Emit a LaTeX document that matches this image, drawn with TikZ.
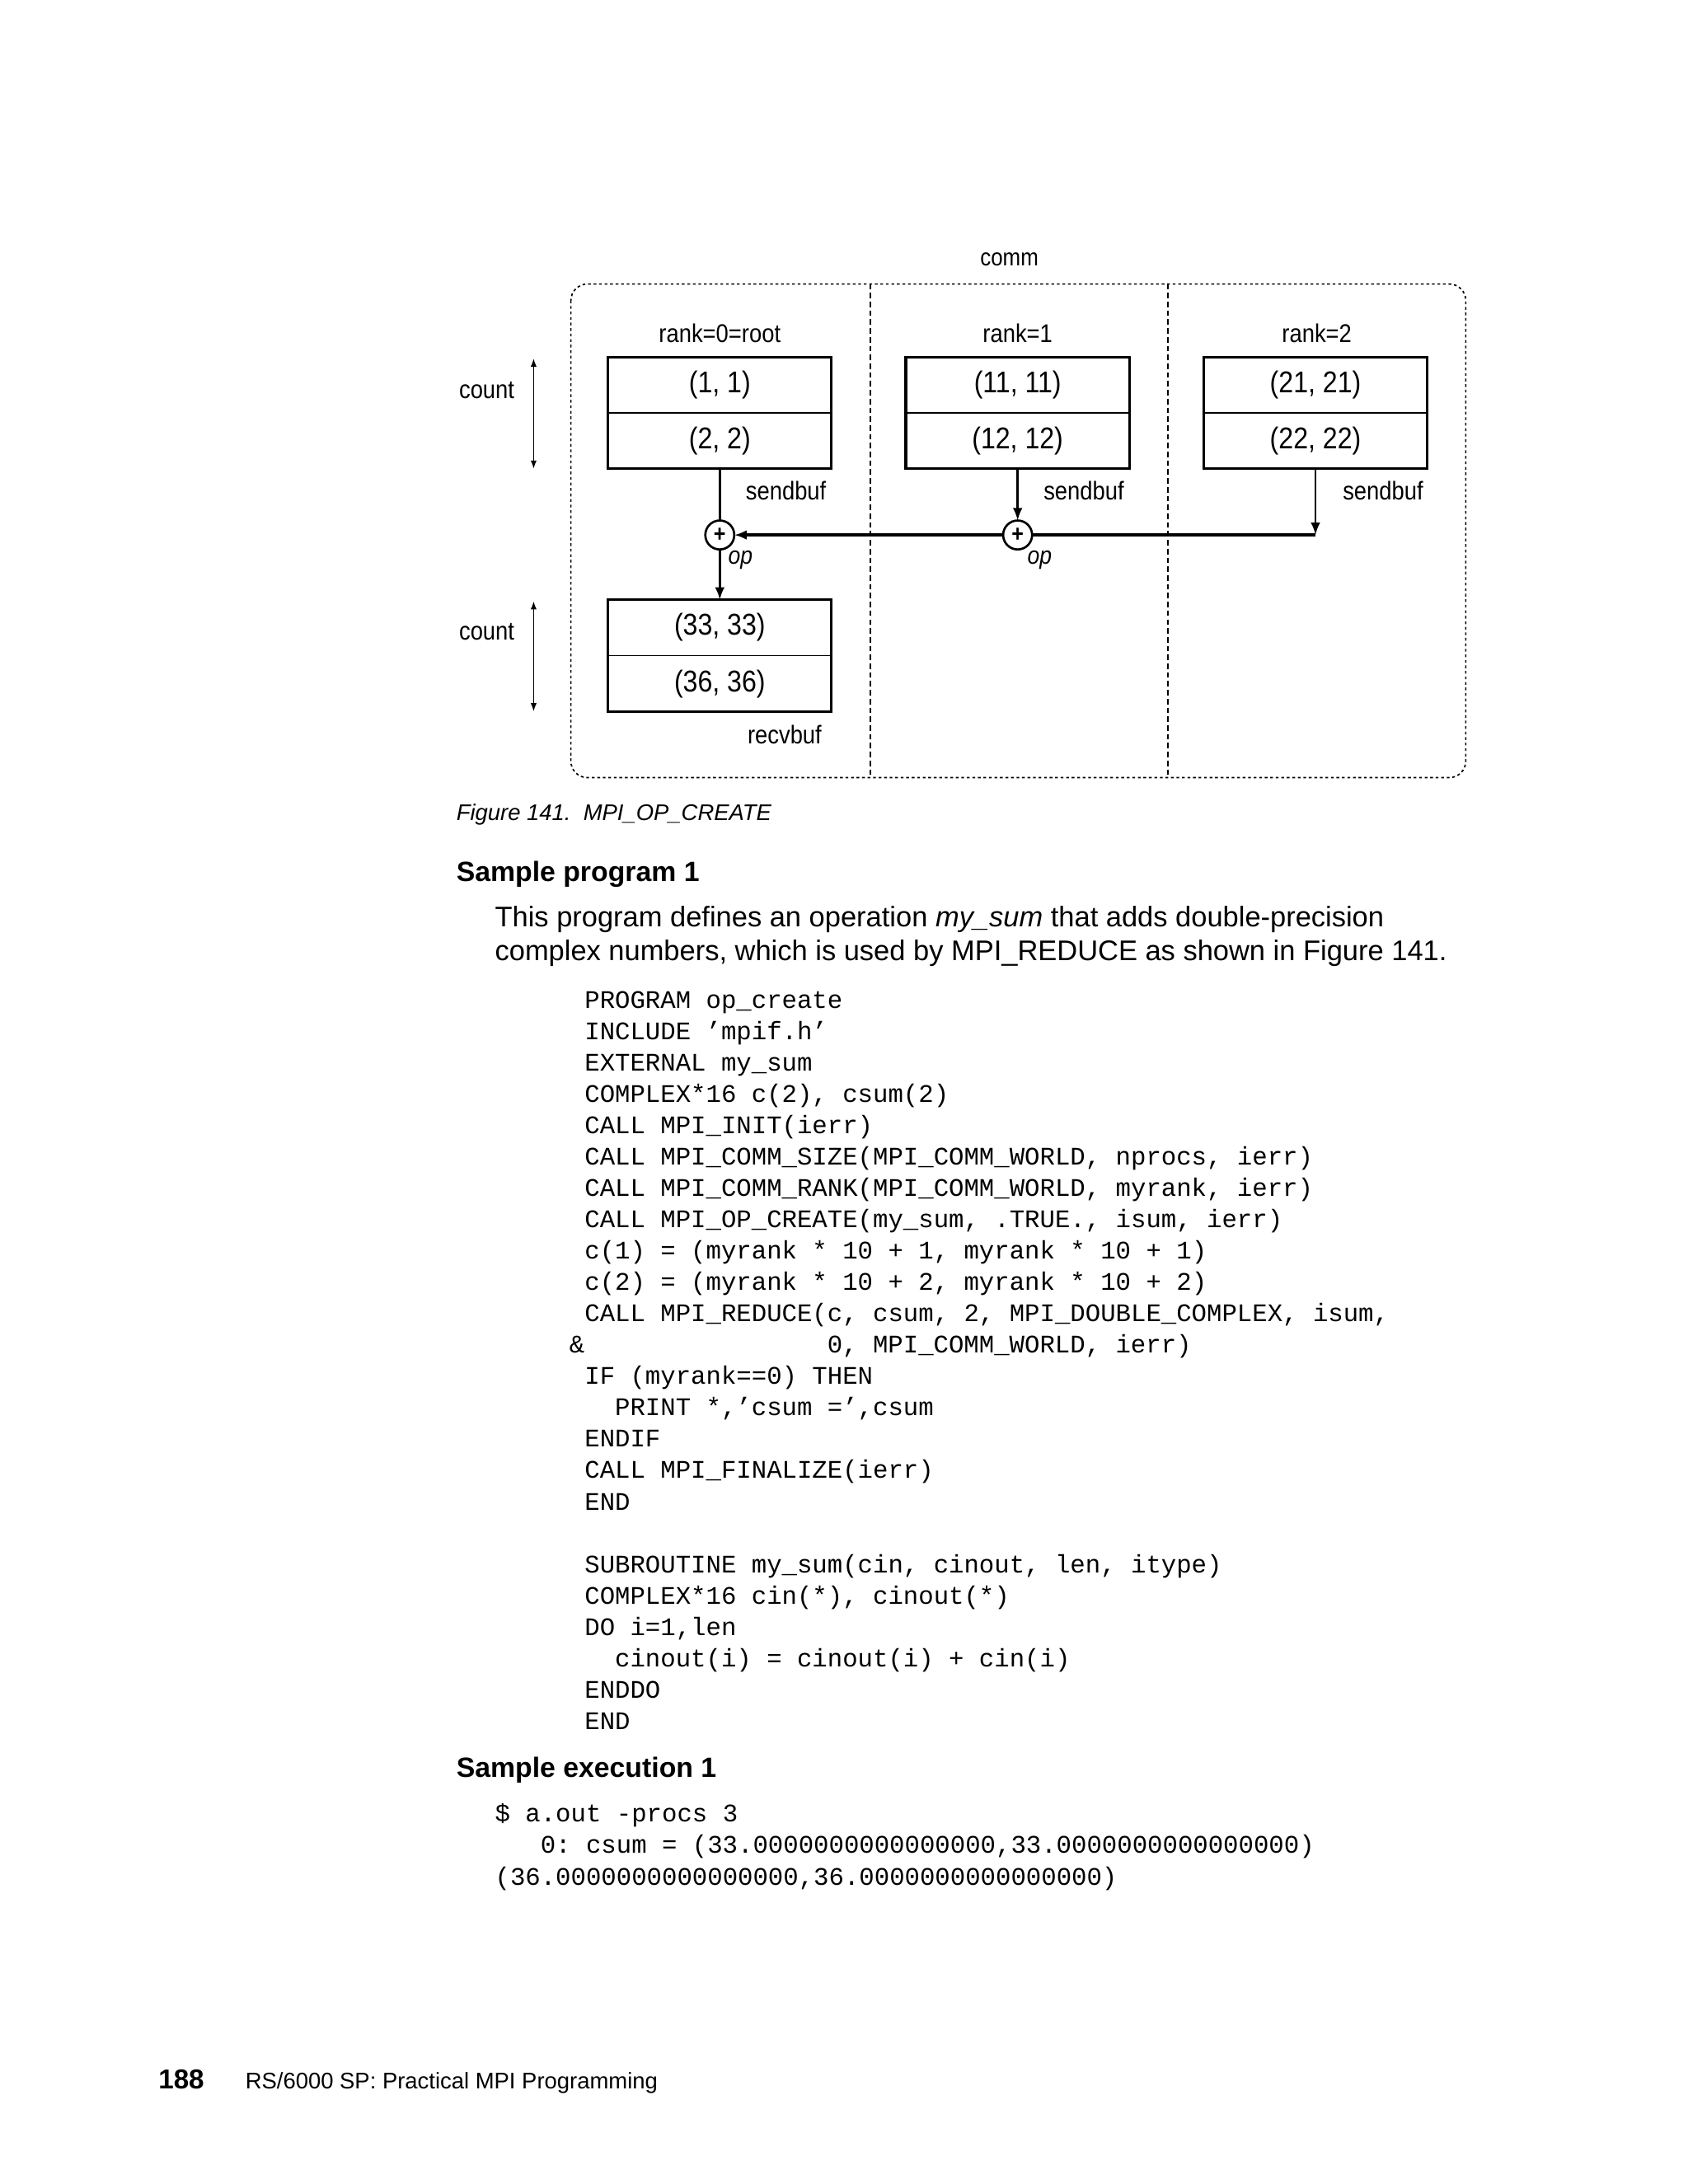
\documentclass[tikz,border=0pt]{standalone}
\usepackage{fontspec}
\setmainfont{Liberation Sans}
\newfontfamily\codefont{Liberation Mono}
\newfontfamily\diafont[FakeStretch=0.88]{Liberation Sans}
\usetikzlibrary{arrows.meta,calc}
\frenchspacing
\begin{document}
\begin{tikzpicture}[x=1pt,y=-1pt,
 every node/.style={inner sep=0pt, outer sep=0pt},
 lbl/.style={font=\diafont\fontsize{9.3}{11}\selectfont},
 lblc/.style={font=\diafont\fontsize{8.8}{10}\selectfont},
 opl/.style={font=\diafont\itshape\fontsize{9}{11}\selectfont},
 val/.style={font=\diafont\fontsize{10.9}{12}\selectfont},
 buf/.style={draw, line width=1pt, minimum width=81pt, minimum height=40.5pt},
 opc/.style={draw, circle, line width=0.8pt, minimum size=10.5pt, font=\diafont\bfseries\fontsize{8.5}{9}\selectfont},
 conn/.style={line width=0.8pt},
 arr/.style={conn, -{Latex[length=4.5pt,width=3.5pt]}},
 cnt/.style={line width=0.5pt, {Latex[length=3pt,width=2.2pt]}-{Latex[length=3pt,width=2.2pt]}},
 frame/.style={line width=0.5pt, dash pattern=on 1pt off 1pt, rounded corners=6pt},
 divider/.style={line width=0.5pt, dash pattern=on 2pt off 1.2pt},
 code/.style={anchor=base west, font=\codefont\fontsize{9.17}{11.37}\selectfont},
 body/.style={anchor=base west, font=\fontsize{10.3}{12}\selectfont},
 head/.style={anchor=base west, font=\bfseries\fontsize{10.1}{12}\selectfont},
 capt/.style={anchor=base west, font=\itshape\fontsize{8.2}{10}\selectfont},
 foot/.style={anchor=base west, font=\fontsize{8.2}{10}\selectfont},
 pnum/.style={anchor=base west, font=\bfseries\fontsize{9.9}{12}\selectfont}]

\fill[white] (0,0) rectangle (612,792);
\useasboundingbox (0,0) rectangle (612,792);

% ---------- diagram ----------
\node[lblc] (comm) at (366,94) {comm};
\draw[frame] (207,103) rectangle (531.5,282);
\draw[divider] (315.5,103) -- (315.5,282);
\draw[divider] (423.5,103) -- (423.5,282);

\node[lbl] (r0) at (261,121) {rank=0=root};
\node[lbl] (r1) at (369,121) {rank=1};
\node[lbl] (r2) at (477.5,121) {rank=2};

\node[buf] (b0) at (261,149.75) {};
\node[buf] (b1) at (369,149.75) {};
\node[buf] (b2) at (477,149.75) {};
\node[buf] (rb) at (261,237.75) {};
\foreach \b in {b0,b1,b2,rb}{\draw[line width=0.5pt] (\b.west) -- (\b.east);}

\node[val] (b0a) at (261,139.6) {(1, 1)};
\node[val] (b0b) at (261,160) {(2, 2)};
\node[val] (b1a) at (369,139.6) {(11, 11)};
\node[val] (b1b) at (369,160) {(12, 12)};
\node[val] (b2a) at (477,139.6) {(21, 21)};
\node[val] (b2b) at (477,160) {(22, 22)};
\node[val] (rba) at (261,227.6) {(33, 33)};
\node[val] (rbb) at (261,248) {(36, 36)};

\node[lbl] (cnt1) at (176.5,141.5) {count};
\node[lbl] (cnt2) at (176.5,229) {count};
\coordinate (ca1) at (193.5,130);
\coordinate (cb1) at (193.5,170);
\coordinate (ca2) at (193.5,218);
\coordinate (cb2) at (193.5,258);
\draw[cnt] (ca1) -- (cb1);
\draw[cnt] (ca2) -- (cb2);

\node[lbl] (sb0) at (285,178) {sendbuf};
\node[lbl] (sb1) at (393,178) {sendbuf};
\node[lbl] (sb2) at (501.5,178) {sendbuf};
\node[lbl] (rcv) at (284.5,266.5) {recvbuf};

\node[opc] (c1) at (261,194) {+};
\node[opc] (c2) at (369,194) {+};
\node[opl] (op1) at (268.5,203) {op};
\node[opl] (op2) at (377,203) {op};
\coordinate (j) at (477,194);

\draw[conn] (b0.south) -- (c1.north);
\draw[arr] (b1.south) -- (c2.north);
\draw[arr] (b2.south) -- (j);
\draw[line width=1pt] (j) -- (c2.east);
\draw[arr, line width=1pt] (c2.west) -- (c1.east);
\draw[arr] (c1.south) -- (rb.north);

% ---------- text ----------
\node[capt] (cap) at (165.5,297.5) {Figure 141.\hspace{4.56pt}MPI\_OP\_CREATE};
\node[head] (h1) at (165.5,319.5) {Sample program 1};
\node[body] (p1) at (179.5,336.2) {This program defines an operation \textit{my\_sum} that adds double-precision};
\node[body] (p2) at (179.5,348.2) {complex numbers, which is used by MPI\_REDUCE as shown in Figure 141.};

\node[code] (l0)  at (212,365.6)  {PROGRAM op\_create};
\node[code] (l1)  at (212,376.97) {INCLUDE ’mpif.h’};
\node[code] (l2)  at (212,388.34) {EXTERNAL my\_sum};
\node[code] (l3)  at (212,399.71) {COMPLEX*16 c(2), csum(2)};
\node[code] (l4)  at (212,411.08) {CALL MPI\_INIT(ierr)};
\node[code] (l5)  at (212,422.45) {CALL MPI\_COMM\_SIZE(MPI\_COMM\_WORLD, nprocs, ierr)};
\node[code] (l6)  at (212,433.82) {CALL MPI\_COMM\_RANK(MPI\_COMM\_WORLD, myrank, ierr)};
\node[code] (l7)  at (212,445.19) {CALL MPI\_OP\_CREATE(my\_sum, .TRUE., isum, ierr)};
\node[code] (l8)  at (212,456.56) {c(1) = (myrank * 10 + 1, myrank * 10 + 1)};
\node[code] (l9)  at (212,467.93) {c(2) = (myrank * 10 + 2, myrank * 10 + 2)};
\node[code] (l10) at (212,479.30) {CALL MPI\_REDUCE(c, csum, 2, MPI\_DOUBLE\_COMPLEX, isum,};
\node[code] (l11a) at (206.5,490.67) {\&};
\node[code] (l11b) at (300,490.67) {0, MPI\_COMM\_WORLD, ierr)};
\node[code] (l12) at (212,502.04) {IF (myrank==0) THEN};
\node[code] (l13) at (223,513.41) {PRINT *,’csum =’,csum};
\node[code] (l14) at (212,524.78) {ENDIF};
\node[code] (l15) at (212,536.15) {CALL MPI\_FINALIZE(ierr)};
\node[code] (l16) at (212,547.52) {END};
\node[code] (l18) at (212,570.26) {SUBROUTINE my\_sum(cin, cinout, len, itype)};
\node[code] (l19) at (212,581.63) {COMPLEX*16 cin(*), cinout(*)};
\node[code] (l20) at (212,593.00) {DO i=1,len};
\node[code] (l21) at (223,604.37) {cinout(i) = cinout(i) + cin(i)};
\node[code] (l22) at (212,615.74) {ENDDO};
\node[code] (l23) at (212,627.11) {END};

\node[head] (h2) at (165.5,644.5) {Sample execution 1};
\node[code] (e1) at (179.5,660.6) {\$ a.out -procs 3};
\node[code] (e2) at (196,672.1) {0: csum = (33.0000000000000000,33.0000000000000000)};
\node[code] (e3) at (179.5,683.6) {(36.0000000000000000,36.0000000000000000)};

\node[pnum] (pg) at (57.5,757.5) {188};
\node[foot] (ft) at (89,757.5) {RS/6000 SP: Practical MPI Programming};
\end{tikzpicture}
\end{document}
